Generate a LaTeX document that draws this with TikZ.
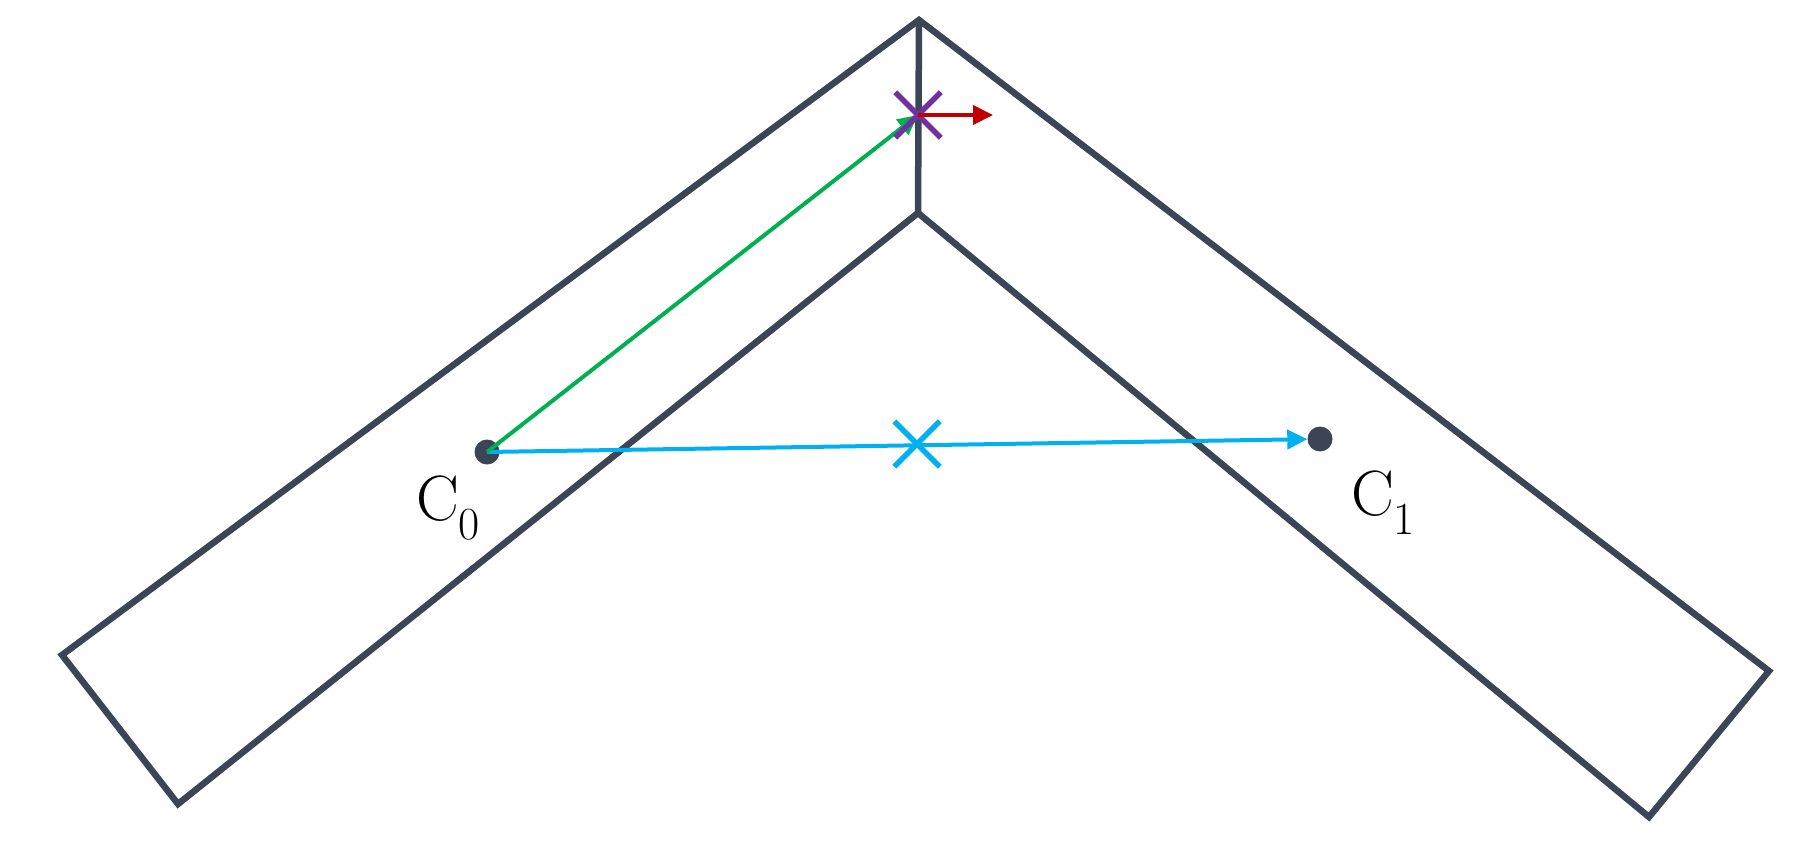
\documentclass[tikz,border=0pt]{standalone}
\usepackage{fontspec}
\usetikzlibrary{arrows.meta,shapes.misc}
\definecolor{outline}{HTML}{3B4556}
\definecolor{cgreen}{HTML}{00B050}
\definecolor{cblue}{HTML}{00B0F0}
\definecolor{cred}{HTML}{C00000}
\definecolor{cpurple}{HTML}{7030A0}
\newcommand{\clab}[1]{C\raisebox{-0.3em}{\fontsize{46}{50}\selectfont #1}}
\tikzset{
  shapeline/.style={draw=outline, line width=6.5pt, line join=miter},
  centre/.style={circle, fill=outline, inner sep=0pt, minimum size=25pt},
  xmark/.style={cross out, draw=#1, line width=5.5pt, minimum size=40pt, inner sep=0pt},
  vec/.style={draw=#1, line width=4pt, -{Triangle[length=20pt,width=19pt]}},
  lab/.style={font=\fontsize{64}{76}\selectfont, inner sep=0pt}
}
\begin{document}
\begin{tikzpicture}[x=1pt,y=-1pt]
\useasboundingbox (0,0) rectangle (1804,853);
% outline shape
\coordinate (lo) at (62,655);
\coordinate (ap) at (919,20);
\coordinate (ro) at (1769,671);
\coordinate (rb) at (1649,817);
\coordinate (ia) at (918,213);
\coordinate (lb) at (178,804);
\draw[shapeline] (lo) -- (ap) -- (ro) -- (rb) -- (ia) -- (lb) -- cycle;
\draw[shapeline] (ap) -- (ia);
% points
\node[centre] (c0) at (487,452) {};
\node[centre] (c1) at (1320,439) {};
\coordinate (p) at (918,115);
\coordinate (r) at (993,115);
% arrows
\draw[vec=cblue] (c0.center) -- (c1);
\draw[vec=cgreen] (c0.center) -- (p);
\node[xmark=cblue] (m) at (917,444) {};
\node[xmark=cpurple] (x) at (p) {};
\draw[vec=cred] (p) -- (r);
% labels
\node[lab] (l0) at (448,508) {\clab{0}};
\node[lab] (l1) at (1383,503) {\clab{1}};
\end{tikzpicture}
\end{document}
